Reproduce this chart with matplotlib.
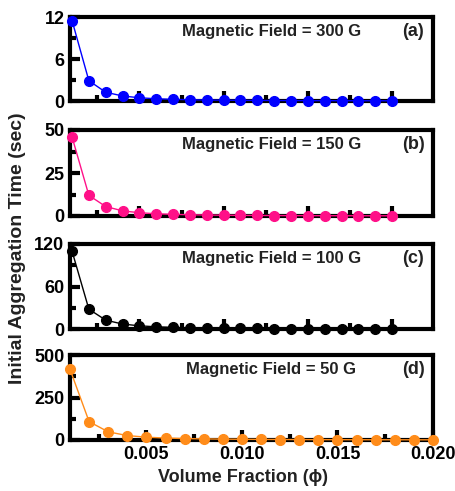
import matplotlib
matplotlib.use("Agg")
import matplotlib.pyplot as plt
from matplotlib.ticker import MultipleLocator

plt.rcParams['font.family'] = ['Liberation Sans', 'DejaVu Sans']
plt.rcParams['font.weight'] = 'bold'

phi = [0.001, 0.002, 0.003, 0.004, 0.005, 0.006, 0.007, 0.008, 0.009, 0.010,
       0.011, 0.012, 0.013, 0.014, 0.015, 0.016, 0.017, 0.018, 0.019, 0.020]

t300 = [11.5, 2.9, 1.25, 0.72, 0.46, 0.32, 0.24, 0.18, 0.14, 0.12,
        0.1, 0.08, 0.07, 0.06, 0.05, 0.045, 0.04, 0.035, 0.032, 0.03]
t150 = [46, 12, 5.5, 3.0, 1.9, 1.3, 0.95, 0.72, 0.57, 0.46,
        0.38, 0.32, 0.27, 0.23, 0.2, 0.18, 0.16, 0.14, 0.13, 0.12]
t100 = [110, 28, 12.5, 7, 4.5, 3.1, 2.3, 1.75, 1.4, 1.1,
        0.9, 0.76, 0.65, 0.56, 0.49, 0.43, 0.38, 0.34, 0.3, 0.28]
t50 = [416, 108, 48, 26, 16.5, 11.5, 8.5, 6.5, 5.1, 4.2,
       3.4, 2.9, 2.5, 2.1, 1.9, 1.6, 1.45, 1.3, 1.15, 1.05]

fields = ["300", "150", "100", "50"]
letters = ["(a)", "(b)", "(c)", "(d)"]
series = [t300, t150, t100, t50]
colors = ["#0000ff", "#ff1088", "#000000", "#ff8c1a"]
ymax = [12, 50, 120, 500]
ystep = [6, 25, 60, 250]

W, H = 455, 491
fig = plt.figure(figsize=(W / 100, H / 100), dpi=100)

# axes boxes in pixels: (top, bottom)
boxes = [(17, 101), (130, 216), (244, 329), (355, 440)]
left, right = 70, 433

for i, (top, bot) in enumerate(boxes):
    ax = fig.add_axes([left / W, 1 - bot / H, (right - left) / W, (bot - top) / H])
    ax.plot(phi, series[i], '-', color=colors[i], lw=1.0,
            marker='o', ms=7, mec=colors[i], mfc=colors[i], clip_on=False, zorder=3)
    ax.set_ylim(0, ymax[i])
    if i < 3:
        # upper panels use a wider, unlabelled x range
        ax.set_xlim(0.00088, 0.02243)
        ax.tick_params(axis='x', labelbottom=False)
    else:
        ax.set_xlim(0.001, 0.020)
    ax.xaxis.set_major_locator(MultipleLocator(0.005))
    ax.xaxis.set_minor_locator(MultipleLocator(0.0025))
    ax.yaxis.set_major_locator(MultipleLocator(ystep[i]))
    ax.yaxis.set_minor_locator(MultipleLocator(ystep[i] / 2))
    if i == 3:
        ax.set_xticks([0.005, 0.010, 0.015, 0.020])
        ax.set_xticklabels(["0.005", "0.010", "0.015", "0.020"])
    ax.tick_params(which='major', direction='in', length=7, width=3, labelsize=13,
                   pad=4)
    ax.tick_params(which='minor', direction='in', length=4, width=3)
    for lab in ax.get_xticklabels() + ax.get_yticklabels():
        lab.set_fontweight('bold')
    for sp in ax.spines.values():
        sp.set_linewidth(3)
    ax.text(0.555, 0.83, "Magnetic Field = %s G" % fields[i], transform=ax.transAxes,
            ha='center', va='center', fontsize=12, fontweight='bold', color='#222222')
    ax.text(0.945, 0.83, letters[i], transform=ax.transAxes,
            ha='center', va='center', fontsize=13, fontweight='bold', color='#222222')

fig.text(243 / W, 1 - 478 / H, "Volume Fraction (ϕ)", ha='center', va='center',
         fontsize=13, fontweight='bold', color='#222222')
fig.text(18 / W, 1 - 248 / H, "Initial Aggregation Time (sec)", rotation=90,
         ha='center', va='center', fontsize=14, fontweight='bold', color='#222222')

fig.savefig("out.png", dpi=100)
